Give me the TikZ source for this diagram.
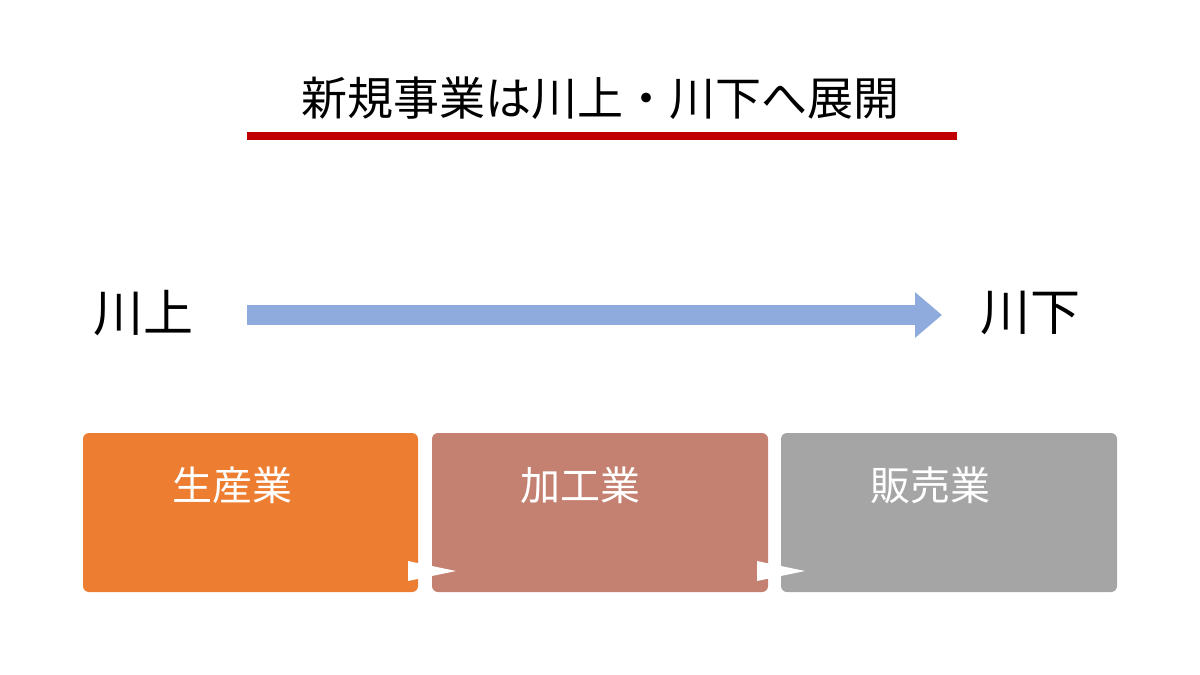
\documentclass[tikz,border=0pt]{standalone}
\usepackage{fontspec}
\newfontfamily\jpfont{Noto Sans CJK JP}
\usetikzlibrary{arrows.meta}
\definecolor{flowblue}{RGB}{143,170,220}
\definecolor{titlered}{RGB}{192,0,0}
\definecolor{stageorange}{RGB}{237,125,49}
\definecolor{stagebrown}{RGB}{196,128,112}
\definecolor{stagegray}{RGB}{165,165,165}
\tikzset{every picture/.style={line width=0.75pt},
  stagebox/.style={rounded corners=6pt,draw=none},
  stagetext/.style={text=white,font=\jpfont\fontsize{40}{40}\selectfont,inner sep=0pt},
  endtext/.style={font=\jpfont\fontsize{50}{50}\selectfont,inner sep=0pt},
  steptip/.style={fill=white,draw=none}}
\begin{document}
\begin{tikzpicture}[x=1pt,y=1pt,yscale=-1]
\useasboundingbox (0,0) rectangle (1200,675);
% title
\node (title) at (600,98) [font=\jpfont\fontsize{46}{46}\selectfont,inner sep=0pt] {新規事業は川上・川下へ展開};
\fill[titlered] (247,132) rectangle (957,140);
% flow arrow
\node (up) at (143,313) [endtext] {川上};
\node (down) at (1030,313) [endtext] {川下};
\coordinate (a0) at (247,315);
\coordinate (a1) at (942,315);
\draw[flowblue,line width=20pt,-{Triangle[length=27pt,width=44pt]}] (a0) -- (a1);
% stages
\fill[stagebox,stageorange] (83,433) rectangle (418,592);
\fill[stagebox,stagebrown] (432,433) rectangle (768,592);
\fill[stagebox,stagegray] (781,433) rectangle (1117,592);
\node (s1) at (232,485) [stagetext] {生産業};
\node (s2) at (580,485) [stagetext] {加工業};
\node (s3) at (930,485) [stagetext] {販売業};
% step tips
\fill[steptip] (408,561) -- (456,571) -- (408,581) -- cycle;
\fill[steptip] (757,561) -- (805,571) -- (757,581) -- cycle;
\end{tikzpicture}
\end{document}
